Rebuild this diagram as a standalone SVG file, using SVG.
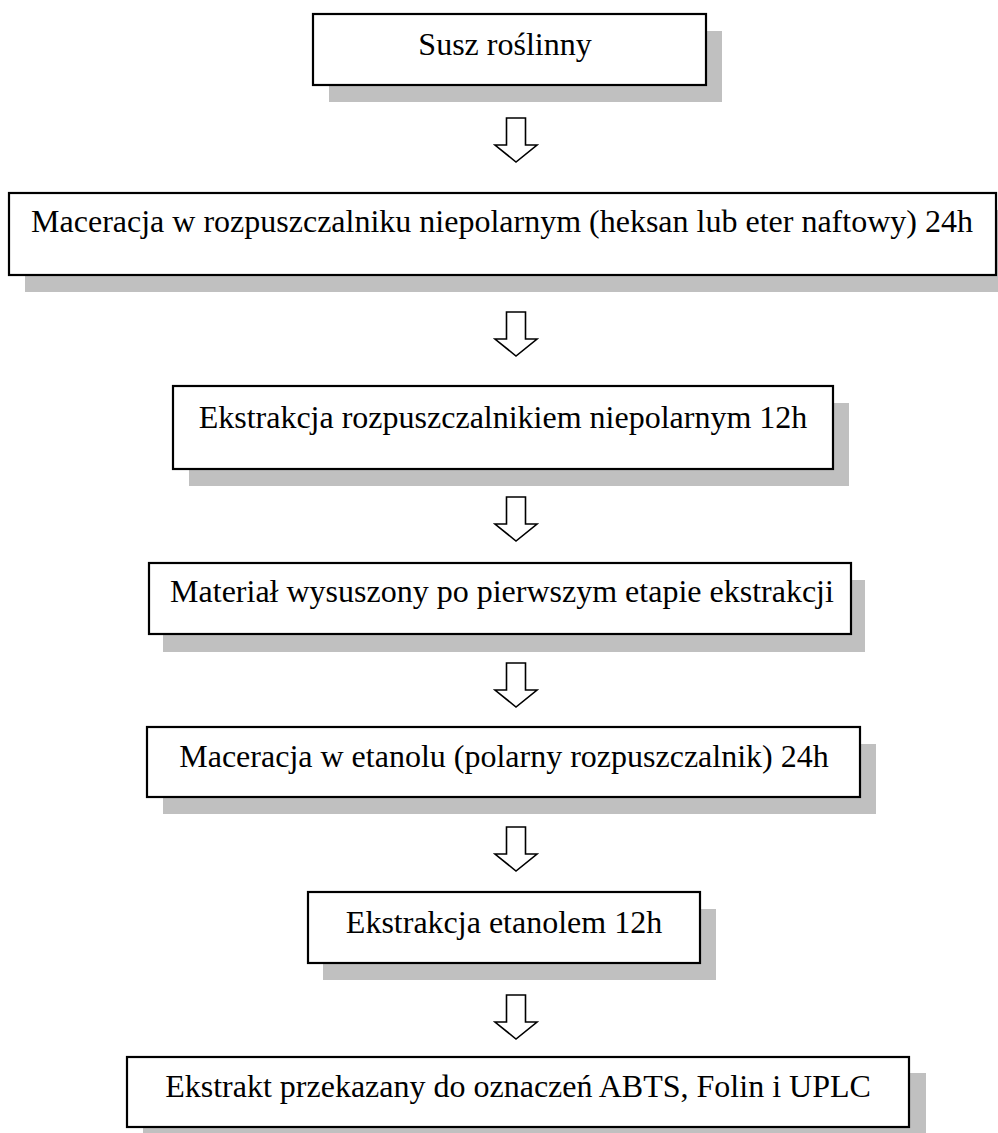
<svg xmlns="http://www.w3.org/2000/svg" width="998" height="1133" viewBox="0 0 998 1133">
<style>
.shadow{fill:#c0c0c0;stroke:none}
.box{fill:#ffffff;stroke:#000000;stroke-width:2.2}
.lbl{font-family:"Liberation Serif","Times New Roman",serif;font-size:32px;fill:#000000;text-anchor:middle}
.arrow{fill:#ffffff;stroke:#000000;stroke-width:1.6;stroke-linejoin:miter}
</style>
<defs>
<path id="dnArrow" d="M-9.5,0 L9.5,0 L9.5,27 L21,27 L0,44 L-21,27 L-9.5,27 Z"/>
</defs>
<rect width="998" height="1133" fill="#ffffff"/>
<g id="n1">
<rect class="shadow" x="329" y="31" width="393" height="71"/>
<rect class="box" x="313" y="14" width="393" height="71"/>
<text class="lbl" x="505" y="55">Susz roślinny</text>
</g>
<g id="n2">
<rect class="shadow" x="25" y="210" width="987" height="82"/>
<rect class="box" x="9" y="193" width="987" height="82"/>
<text class="lbl" x="502" y="232">Maceracja w rozpuszczalniku niepolarnym (heksan lub eter naftowy) 24h</text>
</g>
<g id="n3">
<rect class="shadow" x="189" y="403" width="660" height="83"/>
<rect class="box" x="173" y="386" width="660" height="83"/>
<text class="lbl" x="503" y="428">Ekstrakcja rozpuszczalnikiem niepolarnym 12h</text>
</g>
<g id="n4">
<rect class="shadow" x="163" y="580" width="702" height="72"/>
<rect class="box" x="149" y="563" width="702" height="71"/>
<text class="lbl" x="502" y="602">Materiał wysuszony po pierwszym etapie ekstrakcji</text>
</g>
<g id="n5">
<rect class="shadow" x="163" y="744" width="713" height="70"/>
<rect class="box" x="147" y="727" width="713" height="70"/>
<text class="lbl" x="504" y="767">Maceracja w etanolu (polarny rozpuszczalnik) 24h</text>
</g>
<g id="n6">
<rect class="shadow" x="323" y="909" width="393" height="71"/>
<rect class="box" x="308" y="892" width="392" height="71"/>
<text class="lbl" x="504" y="933">Ekstrakcja etanolem 12h</text>
</g>
<g id="n7">
<rect class="shadow" x="143" y="1073" width="783" height="80"/>
<rect class="box" x="127" y="1057" width="782" height="70"/>
<text class="lbl" x="518" y="1097">Ekstrakt przekazany do oznaczeń ABTS, Folin i UPLC</text>
</g>
<g id="connectors">
<use href="#dnArrow" class="arrow" transform="translate(516,118)"/>
<use href="#dnArrow" class="arrow" transform="translate(516,312)"/>
<use href="#dnArrow" class="arrow" transform="translate(516,497)"/>
<use href="#dnArrow" class="arrow" transform="translate(516,663)"/>
<use href="#dnArrow" class="arrow" transform="translate(516,827)"/>
<use href="#dnArrow" class="arrow" transform="translate(516,995)"/>
</g>
</svg>
